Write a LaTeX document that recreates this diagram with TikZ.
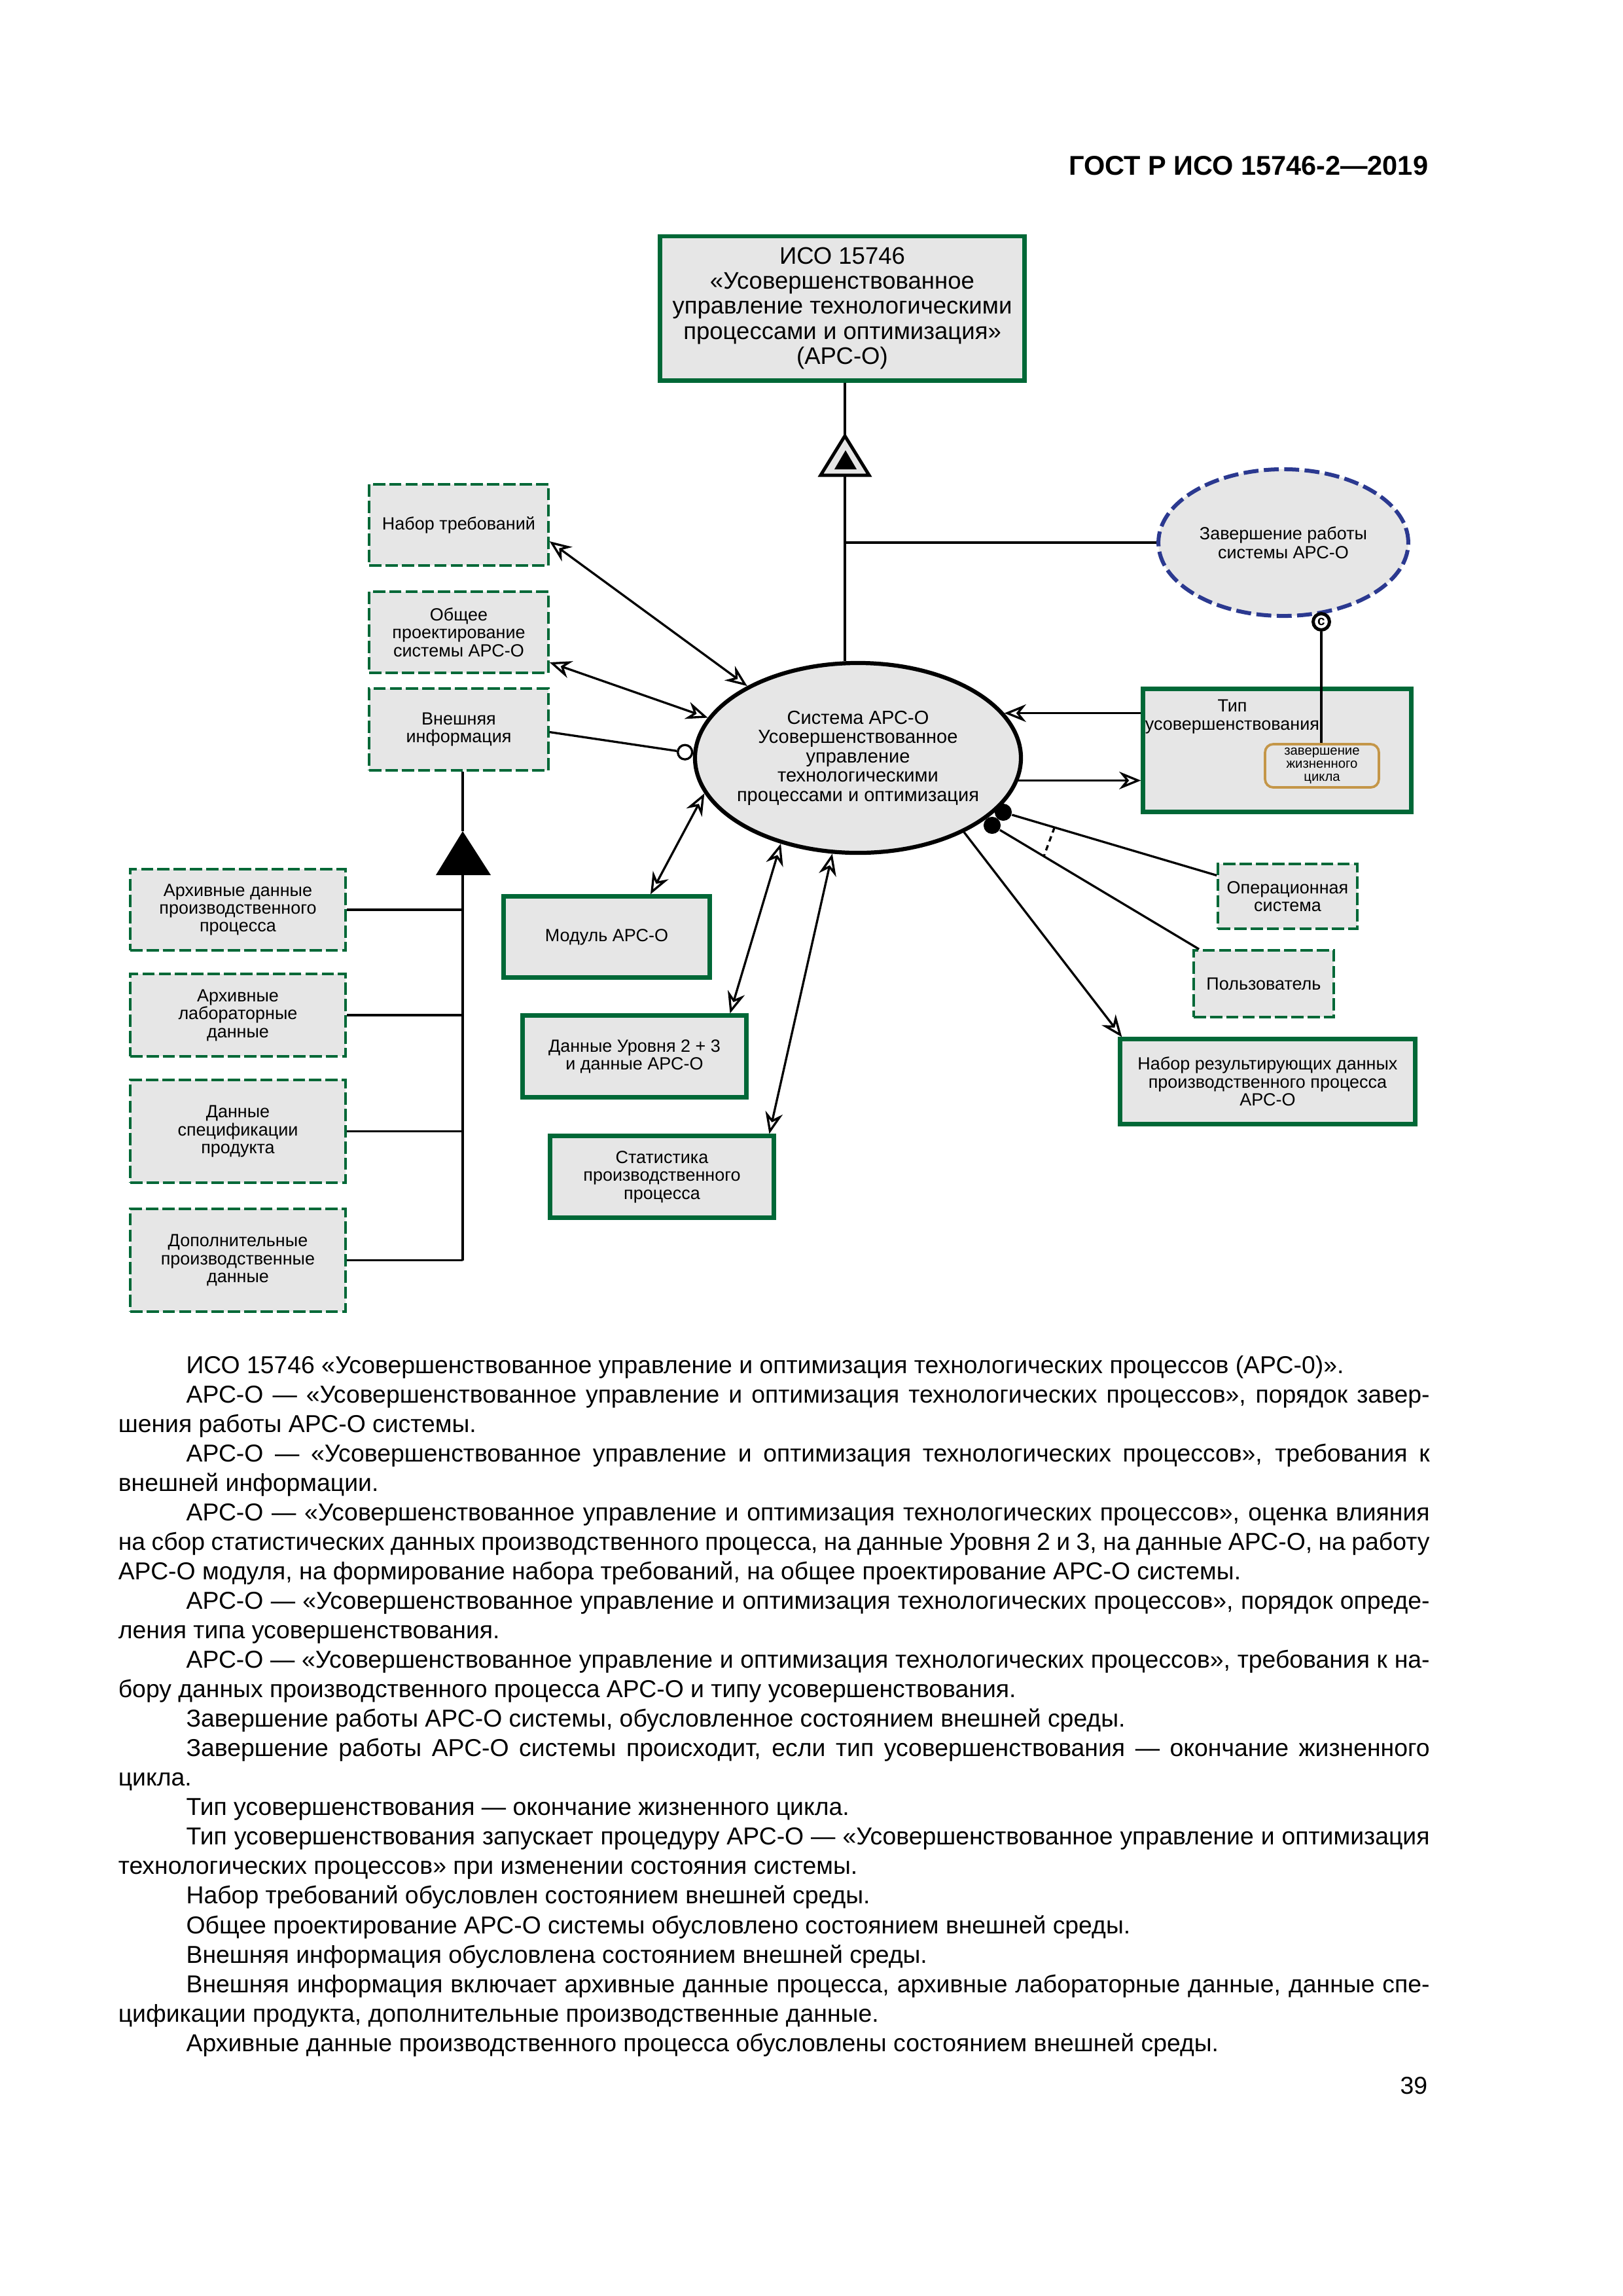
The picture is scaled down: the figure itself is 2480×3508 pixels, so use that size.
\documentclass[tikz,border=0pt]{standalone}
\usepackage{fontspec}
\setmainfont{Liberation Sans}
\usetikzlibrary{shapes,arrows.meta,positioning,calc}
\definecolor{gostgreen}{RGB}{0,104,55}
\definecolor{gostgray}{RGB}{230,230,230}
\definecolor{gostblue}{RGB}{43,57,144}
\definecolor{gostgold}{RGB}{196,150,72}
\newlength\bodywd
\setlength\bodywd{482.8pt}
\newcommand\fullline[1]{\hbox to\bodywd{#1}}
\newcommand\lastline[1]{\hbox to\bodywd{#1\hfil}}
\newcommand\ind{\kern25pt}

\begin{document}
\begin{tikzpicture}[x=0.24093pt, y=-0.24093pt,
    greenbox/.style={rectangle, draw=gostgreen, line width=1.5pt, fill=gostgray,
                     align=center, inner sep=0pt, font=\fontsize{6.5}{6.6}\selectfont},
    dashgreen/.style={greenbox, line width=0.85pt, dash pattern=on 4.5pt off 1.5pt},
    sysell/.style={ellipse, draw, line width=1.5pt, fill=gostgray, align=center,
                   inner sep=-3pt, minimum width=120pt, minimum height=69.9pt,
                   font=\fontsize{7}{7.1}\selectfont},
    stopell/.style={ellipse, draw=gostblue, line width=1.45pt, dash pattern=on 5.5pt off 2pt,
                    fill=gostgray, align=center, inner sep=0pt, font=\fontsize{6.5}{6.9}\selectfont},
    eolbox/.style={rectangle, rounded corners=3pt, draw=gostgold, line width=0.9pt,
                   fill=gostgray, align=center, inner sep=0pt, font=\fontsize{4.9}{4.8}\selectfont},
    link/.style={draw, line width=0.8pt},
    bdot/.style={circle, fill, inner sep=0pt, minimum size=6.3pt},
    odot/.style={circle, draw, line width=0.8pt, fill=white, inner sep=0pt, minimum size=5.3pt},
    cmark/.style={circle, draw, line width=1.2pt, fill=white, inner sep=0pt, minimum size=6pt,
                  font=\fontsize{5}{5}\bfseries\selectfont},
    >={Stealth[length=8pt, width=6.5pt, inset=2.6pt, fill=white]}
]
\path[use as bounding box, fill=white] (0,0) rectangle (2480,3508);

% page header
\node[anchor=base east, inner sep=0pt, font=\fontsize{10}{12}\bfseries\selectfont] (header) at (2183,267) {ГОСТ Р ИСО 15746-2—2019};

% top standard box and generalization symbol
\node[greenbox, minimum width=134.2pt, minimum height=53.2pt, font=\fontsize{8.8}{9.2}\selectfont] (iso) at (1287,471)
     {ИСО 15746\\«Усовершенствованное\\управление технологическими\\процессами и оптимизация»\\(АРС-О)};
\coordinate (genT) at (1291,666);
\coordinate (genB) at (1291,726);
\filldraw[fill=gostgray, line width=1.2pt] (genT) -- (1254,726) -- (1328,726) -- cycle;
\fill (1292,688) -- (1275,717) -- (1309,717) -- cycle;

% left column
\node[dashgreen, minimum width=66pt, minimum height=29.9pt] (reqset) at (701,802) {Набор требований};
\node[dashgreen, minimum width=66pt, minimum height=29.9pt] (design) at (701,966) {Общее\\проектирование\\системы АРС-О};
\node[dashgreen, minimum width=66pt, minimum height=30.1pt] (extinfo) at (701,1114.5) {Внешняя\\информация};

\node[dashgreen, minimum width=79.3pt, minimum height=29.9pt] (archproc) at (363.5,1390) {Архивные данные\\производственного\\процесса};
\node[dashgreen, minimum width=79.3pt, minimum height=30.4pt] (archlab) at (363.5,1551) {Архивные\\лабораторные\\данные};
\node[dashgreen, minimum width=79.3pt, minimum height=37.8pt] (prodspec) at (363.5,1728.5) {Данные\\спецификации\\продукта};
\node[dashgreen, minimum width=79.3pt, minimum height=37.8pt] (addprod) at (363.5,1925.5) {Дополнительные\\производственные\\данные};

% aggregation symbol
\coordinate (aggT) at (707,1270);
\coordinate (aggB) at (707,1337);
\fill (aggT) -- (666,1337) -- (750,1337) -- cycle;

% central system
\node[sysell] (apco) at (1311,1158) {Система АРС-О\\Усовершенствованное\\управление\\технологическими\\процессами и оптимизация};

\node[greenbox, minimum width=75.9pt, minimum height=29.9pt] (module) at (927,1431.5) {Модуль АРС-О};
\node[greenbox, minimum width=82.4pt, minimum height=30.1pt] (lvldata) at (969.5,1614) {Данные Уровня 2 + 3\\и данные АРС-О};
\node[greenbox, minimum width=82.4pt, minimum height=30.1pt] (procstat) at (1011.5,1798) {Статистика\\производственного\\процесса};

% right column
\node[stopell, minimum width=92pt, minimum height=54pt] (shutdown) at (1961,829) {Завершение работы\\системы АРС-О};
\node[greenbox, minimum width=98.8pt, minimum height=45.3pt] (imptype) at (1951.5,1146.5) {};
\node[font=\fontsize{6.5}{6.9}\selectfont, align=center, inner sep=0pt] (imptypetxt) at (1883,1095) {Тип\\усовершенствования};
\node[eolbox, minimum width=41.9pt, minimum height=15.9pt] (eol) at (2020,1170) {завершение\\жизненного\\цикла};
\node[cmark] (cmk) at (2019,950) {c};

\node[dashgreen, minimum width=51.3pt, minimum height=23.9pt] (opsys) at (1967.5,1369.5) {Операционная\\система};
\node[dashgreen, minimum width=51.6pt, minimum height=24.6pt] (user) at (1931,1503) {Пользователь};
\node[greenbox, minimum width=108.7pt, minimum height=31.3pt] (resdata) at (1937,1652.5) {Набор результирующих данных\\производственного процесса\\АРС-О};

% connectors
\draw[link] (genT |- iso.south) -- (genT);
\draw[link] (genB) -- (genB |- apco.north);
\draw[link] (genB |- shutdown.west) -- (shutdown.west);

\draw[link, <->] ($(reqset.east)+(0,25)$) -- (apco.147);
\draw[link, <->] ($(design.east)+(0,46)$) -- (apco.165);
\node[odot, anchor=east] (oc) at (apco.178) {};
\draw[link] ($(extinfo.east)+(0,4)$) -- (oc);

\draw[link] (aggT |- extinfo.south) -- (aggT);
\draw[link] (aggB) -- (aggB |- addprod.east);
\foreach \n in {archproc, archlab, prodspec, addprod}
    \draw[link] (\n.east) -- (\n.east -| aggB);

\draw[link, <->] (apco.193) -- ($(module.north)+(67,0)$);
\draw[link, <->] (apco.228) -- ($(lvldata.north)+(146,0)$);
\draw[link, <->] (apco.255) -- ($(procstat.north)+(164,0)$);

\draw[link, <-] (apco.17) -- (apco.17 -| imptype.west);
\draw[link, ->] (apco.-8.5) -- (apco.-8.5 -| imptype.west);
\draw[link] (cmk.south) -- (cmk.south |- eol.north);

\draw[link, ->] (apco.-35) -- ($(resdata.north west)+(6,0)$);
\node[bdot] (dotA) at (1533,1241) {};
\node[bdot] (dotB) at (1516,1261) {};
\coordinate (opEnd) at ($(opsys.west)+(0,-32)$);
\coordinate (userEnd) at ($(user.north west)+(10,0)$);
\draw[link] (dotA) -- (opEnd);
\draw[link] (dotB) -- (userEnd);
\draw[link, dash pattern=on 2pt off 1.5pt] ($(dotA)!0.24!(opEnd)$) -- ($(dotB)!0.25!(userEnd)$);

% text below the figure
\node[anchor=north west, inner sep=0pt, text width=482.8pt, font=\fontsize{9}{10.85}\selectfont] (body) at (180,2052.5) {%
\spaceskip=2.5pt plus 3pt minus 0.9pt\relax\par
\lastline{\strut\ind ИСО 15746 «Усовершенствованное управление и оптимизация технологических процессов (АРС-0)».}
\fullline{\ind АРС-О — «Усовершенствованное управление и оптимизация технологических процессов», порядок завер-}
\lastline{шения работы АРС-О системы.}
\fullline{\ind АРС-О — «Усовершенствованное управление и оптимизация технологических процессов», требования к}
\lastline{внешней информации.}
\fullline{\ind АРС-О — «Усовершенствованное управление и оптимизация технологических процессов», оценка влияния}
\fullline{на сбор статистических данных производственного процесса, на данные Уровня 2 и 3, на данные АРС-О, на работу}
\lastline{АРС-О модуля, на формирование набора требований, на общее проектирование АРС-О системы.}
\fullline{\ind АРС-О — «Усовершенствованное управление и оптимизация технологических процессов», порядок опреде-}
\lastline{ления типа усовершенствования.}
\fullline{\ind АРС-О — «Усовершенствованное управление и оптимизация технологических процессов», требования к на-}
\lastline{бору данных производственного процесса АРС-О и типу усовершенствования.}
\lastline{\ind Завершение работы АРС-О системы, обусловленное состоянием внешней среды.}
\fullline{\ind Завершение работы АРС-О системы происходит, если тип усовершенствования — окончание жизненного}
\lastline{цикла.}
\lastline{\ind Тип усовершенствования — окончание жизненного цикла.}
\fullline{\ind Тип усовершенствования запускает процедуру АРС-О — «Усовершенствованное управление и оптимизация}
\lastline{технологических процессов» при изменении состояния системы.}
\lastline{\ind Набор требований обусловлен состоянием внешней среды.}
\lastline{\ind Общее проектирование АРС-О системы обусловлено состоянием внешней среды.}
\lastline{\ind Внешняя информация обусловлена состоянием внешней среды.}
\fullline{\ind Внешняя информация включает архивные данные процесса, архивные лабораторные данные, данные спе-}
\lastline{цификации продукта, дополнительные производственные данные.}
\lastline{\ind Архивные данные производственного процесса обусловлены состоянием внешней среды.}};

% page number
\node[anchor=base east, inner sep=0pt, font=\fontsize{9}{11}\selectfont] (pagenum) at (2182,3199) {39};
\end{tikzpicture}
\end{document}
